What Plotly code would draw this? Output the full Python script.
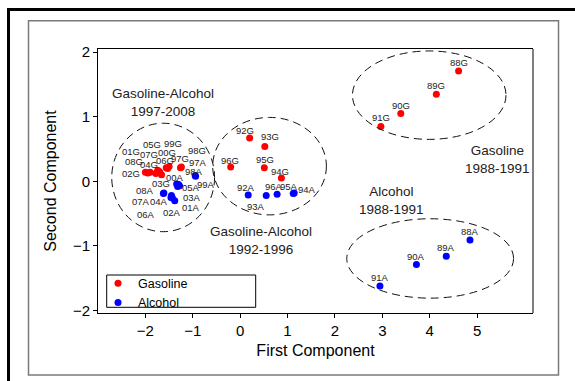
import plotly.graph_objects as go

# ---- principal component scores ----
gas_labels = ["88G", "89G", "90G", "91G", "92G", "93G", "94G", "95G", "96G",
              "97G", "98G", "99G", "00G", "01G", "02G", "03G", "04G", "05G",
              "06G", "07G", "08G"]
gas_x = [4.61, 4.14, 3.39, 2.97, 0.20, 0.52, 0.87, 0.51, -0.20,
         -1.24, -1.26, -1.50, -1.56, -1.90, -2.00, -1.66, -1.78, -1.74,
         -1.53, -1.70, -1.95]
gas_y = [1.71, 1.35, 1.05, 0.85, 0.67, 0.54, 0.05, 0.21, 0.22,
         0.22, 0.21, 0.23, 0.21, 0.14, 0.14, 0.10, 0.12, 0.17,
         0.20, 0.15, 0.13]

alc_labels = ["88A", "89A", "90A", "91A", "92A", "93A", "94A", "95A", "96A",
              "97A", "98A", "99A", "00A", "01A", "02A", "03A", "04A", "05A",
              "06A", "07A", "08A"]
alc_x = [4.85, 4.35, 3.72, 2.95, 0.17, 0.55, 1.14, 1.12, 0.78,
         -0.95, -0.94, -1.30, -1.34, -1.38, -1.43, -1.32, -1.45, -1.28,
         -1.46, -1.62, -1.61]
alc_y = [-0.91, -1.16, -1.29, -1.62, -0.21, -0.22, -0.18, -0.19, -0.20,
         0.09, 0.08, -0.05, -0.04, -0.30, -0.26, -0.08, -0.22, -0.07,
         -0.25, -0.19, -0.18]

x_ticks = [-2, -1, 0, 1, 2, 3, 4, 5]
y_ticks = [-2, -1, 0, 1, 2]

# period groups: (text, x, y) and the dashed ellipse bounds (x0, x1, y0, y1)
group_names = ["Gasoline-Alcohol<br>1997-2008", "Gasoline-Alcohol<br>1992-1996",
               "Alcohol<br>1988-1991", "Gasoline<br>1988-1991"]
group_name_x = [-1.635, 0.446, 3.20, 5.43]
group_name_y = [1.219, -0.914, -0.29, 0.345]
group_bounds = [(-2.71, -0.54, -0.78, 0.90),
                (-0.58, 1.82, -0.52, 0.99),
                (2.25, 5.77, -1.81, -0.58),
                (2.37, 5.61, 0.65, 2.02)]

# pixel offsets of the point labels (default: just above the point)
DEFAULT_SHIFT = (0, 8.5)
label_shift = {
    "92G": (-5, 8), "93G": (5, 10), "96G": (-1, 7), "95G": (1, 8), "94G": (-1, 7),
    "97G": (-1, 9), "98G": (17, 17), "00G": (1, 15), "99G": (4, 23), "06G": (-3, 8),
    "01G": (-19, 21), "02G": (-14, -1), "08G": (-14, 11), "04G": (-7, 9),
    "07G": (-11, 17), "05G": (-6, 26), "03G": (-1, -9),
    "92A": (-2, 7), "93A": (-10, -11), "96A": (-3, 8), "95A": (-4, 7), "94A": (13, 3),
    "97A": (3, 13), "98A": (-2, 5), "00A": (-2, 6), "05A": (11, -2), "99A": (27, 0),
    "03A": (14, -11), "08A": (-19, 2), "07A": (-22, -8), "04A": (-12, -6),
    "02A": (0, -14), "01A": (16, -7), "06A": (-25, -17),
}

FONT = "Arial, Liberation Sans, sans-serif"
W, H = 575, 381
L, R, T, B = 98, 42, 49, 68
PW, PH = W - L - R, H - T - B


def paper_x(px):
    return (px - L) / PW


def paper_y(py):
    return (H - B - py) / PH


fig = go.Figure()
fig.add_trace(go.Scatter(x=gas_x, y=gas_y, mode="markers", name="Gasoline",
                         marker=dict(color="#ff0000", size=7)))
fig.add_trace(go.Scatter(x=alc_x, y=alc_y, mode="markers", name="Alcohol",
                         marker=dict(color="#0000ff", size=7)))

annotations = []
for labels, xs, ys in [(gas_labels, gas_x, gas_y), (alc_labels, alc_x, alc_y)]:
    for lab, xv, yv in zip(labels, xs, ys):
        dx, dy = label_shift.get(lab, DEFAULT_SHIFT)
        annotations.append(dict(x=xv, y=yv, text=lab, showarrow=False,
                                xshift=dx, yshift=dy,
                                font=dict(family=FONT, size=9.5, color="#222")))

for txt, gx, gy in zip(group_names, group_name_x, group_name_y):
    annotations.append(dict(x=gx, y=gy, text=txt, showarrow=False,
                            font=dict(family=FONT, size=13.5, color="#222")))

shapes = []
for x0, x1, y0, y1 in group_bounds:
    shapes.append(dict(type="circle", xref="x", yref="y", x0=x0, x1=x1, y0=y0, y1=y1,
                       line=dict(color="#111", width=1, dash="8px,5px")))

# right edge of the plot frame
shapes.append(dict(type="line", xref="paper", yref="paper", x0=1, x1=1, y0=0, y1=1,
                   line=dict(color="#808080", width=2)))
# legend box
shapes.append(dict(type="rect", xref="paper", yref="paper",
                   x0=paper_x(106.7), x1=paper_x(255.7), y0=paper_y(307.3), y1=paper_y(275),
                   line=dict(color="black", width=1)))
# gray panel border
shapes.append(dict(type="rect", xref="paper", yref="paper",
                   x0=paper_x(28.5), x1=paper_x(558.5), y0=paper_y(375), y1=paper_y(20.7),
                   line=dict(color="#7a7a7a", width=1.5)))
# outer black frame (left and top)
shapes.append(dict(type="path", xref="paper", yref="paper",
                   path="M {a},{b} L {a},{c} L {d},{c}".format(
                       a=paper_x(8.5), b=paper_y(390), c=paper_y(9.5), d=paper_x(590)),
                   line=dict(color="black", width=3)))

fig.update_layout(
    width=W, height=H,
    margin=dict(l=L, r=R, t=T, b=B, pad=0),
    paper_bgcolor="white", plot_bgcolor="white",
    font=dict(family=FONT, color="black"),
    showlegend=True,
    legend=dict(x=paper_x(98), y=paper_y(268.5), xanchor="left", yanchor="top",
                bgcolor="rgba(0,0,0,0)", borderwidth=0, tracegroupgap=0,
                font=dict(family=FONT, size=12.5, color="black")),
    annotations=annotations,
    shapes=shapes,
)
fig.update_xaxes(range=[-3.0, 6.18], tickvals=x_ticks, ticks="outside", ticklen=4,
                 tickcolor="black", showline=True, linecolor="black", linewidth=1,
                 mirror=True, showgrid=False, zeroline=False,
                 tickfont=dict(size=15, family=FONT),
                 title=dict(text="First Component", font=dict(size=16, family=FONT),
                            standoff=6))
fig.update_yaxes(range=[-2.04, 2.05], tickvals=y_ticks, ticks="outside", ticklen=4,
                 tickcolor="black", showline=True, linecolor="black", linewidth=1,
                 mirror=False, showgrid=False, zeroline=False,
                 tickfont=dict(size=15, family=FONT),
                 title=dict(text="Second Component", font=dict(size=16, family=FONT),
                            standoff=12))

fig.write_html("out.html")
